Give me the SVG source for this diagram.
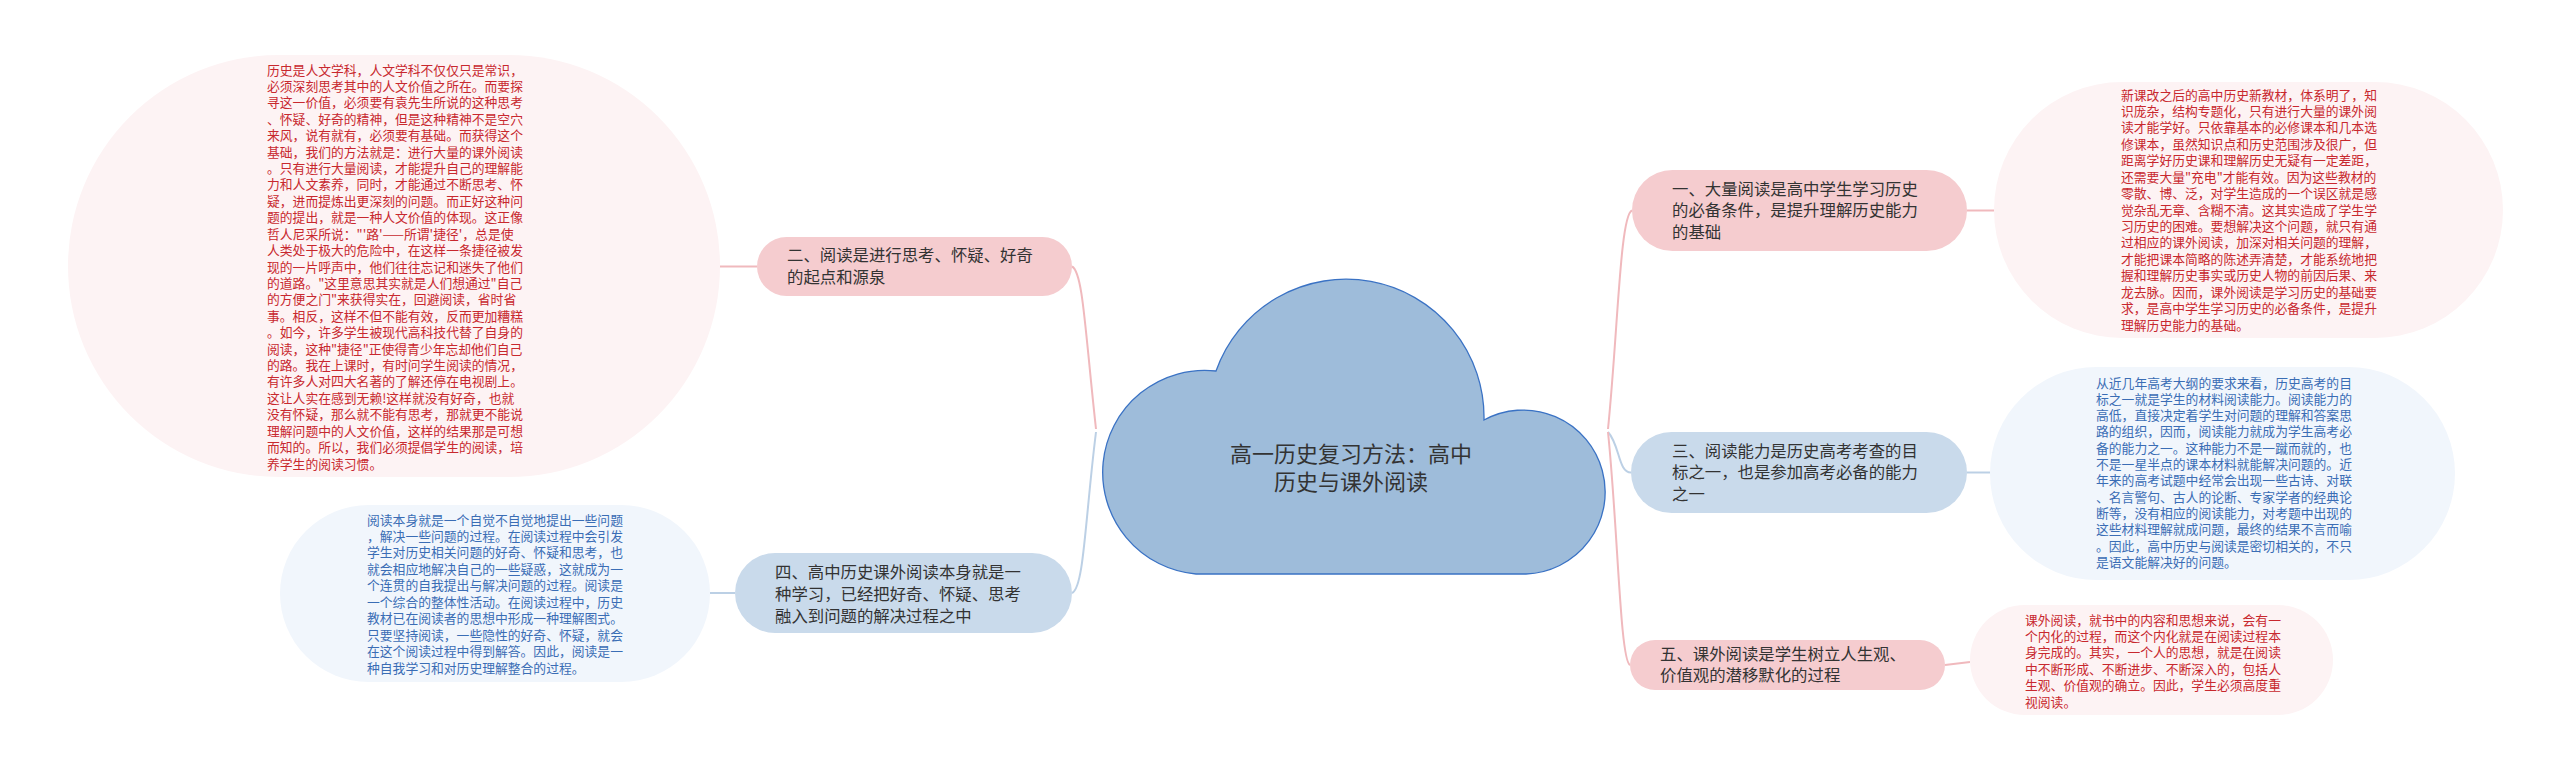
<svg xmlns="http://www.w3.org/2000/svg" width="2560" height="771" viewBox="0 0 2560 771">
<style>
.t{font-family:"Noto Sans CJK SC","Noto Sans",sans-serif;}
.leafR{font-size:12.8px;fill:#c8282e;}
.leafB{font-size:12.8px;fill:#3a6db5;}
.br{font-size:16.4px;fill:#333333;}
.pk{fill:#f5cccf;}
.bl{fill:#c9daeb;}
.lpk{fill:#fdf3f4;}
.lbl{fill:#f1f6fc;}
.cp{fill:none;stroke:#f0b9bd;stroke-width:2;}
.cb{fill:none;stroke:#bcd0e5;stroke-width:2;}
</style>
<rect width="2560" height="771" fill="#ffffff"/>
<g id="connectors">
<path class="cp" d="M1096,429 C1085,330 1083,272 1072,266.5"/>
<path class="cb" d="M1096,432 C1085,520 1084,588 1072,593"/>
<path class="cp" d="M1608,429 C1618,330 1620,215 1632,210.5"/>
<path class="cb" d="M1608,432 C1620,445 1618,472.5 1631,472.5"/>
<path class="cp" d="M1608,432 C1618,530 1620,660 1630,665"/>
<path class="cp" d="M757,266.5 L720,266.5"/>
<path class="cb" d="M735,593 L710,593"/>
<path class="cp" d="M1967,210.5 L1994,210.5"/>
<path class="cb" d="M1967,472.5 L1990,472.5"/>
<path class="cp" d="M1945,665 L1970,662"/>
</g>
<g id="center">
<path d="M1216,371 A138,138 0 0 1 1484,420 A82,82 0 1 1 1526,574 L1196,574 A102,102 0 1 1 1216,371 Z" fill="#9ebcda" stroke="#3a72c4" stroke-width="1.3"/>
<text class="t" font-size="22" fill="#333333" text-anchor="middle"><tspan x="1351" y="461.7">高一历史复习方法：高中</tspan><tspan x="1351" y="489.7">历史与课外阅读</tspan></text>
</g>
<g id="node1">
<rect class="pk" x="1632" y="170" width="335" height="81" rx="40.5"/>
<text class="t br"><tspan x="1672" y="194.7">一、大量阅读是高中学生学习历史</tspan><tspan x="1672" y="216.2">的必备条件，是提升理解历史能力</tspan><tspan x="1672" y="237.7">的基础</tspan></text>
</g>
<g id="node2">
<rect class="pk" x="757" y="237" width="315" height="59" rx="29.5"/>
<text class="t br"><tspan x="787" y="261.2">二、阅读是进行思考、怀疑、好奇</tspan><tspan x="787" y="283.2">的起点和源泉</tspan></text>
</g>
<g id="node3">
<rect class="bl" x="1631" y="432" width="336" height="81" rx="40.5"/>
<text class="t br"><tspan x="1672" y="456.7">三、阅读能力是历史高考考查的目</tspan><tspan x="1672" y="478.2">标之一，也是参加高考必备的能力</tspan><tspan x="1672" y="499.7">之一</tspan></text>
</g>
<g id="node4">
<rect class="bl" x="735" y="553" width="337" height="80" rx="40"/>
<text class="t br"><tspan x="775" y="578.2">四、高中历史课外阅读本身就是一</tspan><tspan x="775" y="600.2">种学习，已经把好奇、怀疑、思考</tspan><tspan x="775" y="622.2">融入到问题的解决过程之中</tspan></text>
</g>
<g id="node5">
<rect class="pk" x="1630" y="640" width="315" height="50" rx="25"/>
<text class="t br"><tspan x="1660" y="659.7">五、课外阅读是学生树立人生观、</tspan><tspan x="1660" y="681.2">价值观的潜移默化的过程</tspan></text>
</g>
<g id="leaf2">
<rect class="lpk" x="68" y="55" width="652" height="422" rx="211"/>
<text class="t leafR">
<tspan x="267" y="74.5">历史是人文学科，人文学科不仅仅只是常识，</tspan>
<tspan x="267" dy="16.42">必须深刻思考其中的人文价值之所在。而要探</tspan>
<tspan x="267" dy="16.42">寻这一价值，必须要有袁先生所说的这种思考</tspan>
<tspan x="267" dy="16.42">、怀疑、好奇的精神，但是这种精神不是空穴</tspan>
<tspan x="267" dy="16.42">来风，说有就有，必须要有基础。而获得这个</tspan>
<tspan x="267" dy="16.42">基础，我们的方法就是：进行大量的课外阅读</tspan>
<tspan x="267" dy="16.42">。只有进行大量阅读，才能提升自己的理解能</tspan>
<tspan x="267" dy="16.42">力和人文素养，同时，才能通过不断思考、怀</tspan>
<tspan x="267" dy="16.42">疑，进而提炼出更深刻的问题。而正好这种问</tspan>
<tspan x="267" dy="16.42">题的提出，就是一种人文价值的体现。这正像</tspan>
<tspan x="267" dy="16.42">哲人尼采所说："'路'——所谓'捷径'，总是使</tspan>
<tspan x="267" dy="16.42">人类处于极大的危险中，在这样一条捷径被发</tspan>
<tspan x="267" dy="16.42">现的一片呼声中，他们往往忘记和迷失了他们</tspan>
<tspan x="267" dy="16.42">的道路。"这里意思其实就是人们想通过"自己</tspan>
<tspan x="267" dy="16.42">的方便之门"来获得实在，回避阅读，省时省</tspan>
<tspan x="267" dy="16.42">事。相反，这样不但不能有效，反而更加糟糕</tspan>
<tspan x="267" dy="16.42">。如今，许多学生被现代高科技代替了自身的</tspan>
<tspan x="267" dy="16.42">阅读，这种"捷径"正使得青少年忘却他们自己</tspan>
<tspan x="267" dy="16.42">的路。我在上课时，有时问学生阅读的情况，</tspan>
<tspan x="267" dy="16.42">有许多人对四大名著的了解还停在电视剧上。</tspan>
<tspan x="267" dy="16.42">这让人实在感到无赖!这样就没有好奇，也就</tspan>
<tspan x="267" dy="16.42">没有怀疑，那么就不能有思考，那就更不能说</tspan>
<tspan x="267" dy="16.42">理解问题中的人文价值，这样的结果那是可想</tspan>
<tspan x="267" dy="16.42">而知的。所以，我们必须提倡学生的阅读，培</tspan>
<tspan x="267" dy="16.42">养学生的阅读习惯。</tspan>
</text>
</g>
<g id="leaf4">
<rect class="lbl" x="280" y="505" width="430" height="177" rx="88.5"/>
<text class="t leafB">
<tspan x="367" y="524.5">阅读本身就是一个自觉不自觉地提出一些问题</tspan>
<tspan x="367" dy="16.45">，解决一些问题的过程。在阅读过程中会引发</tspan>
<tspan x="367" dy="16.45">学生对历史相关问题的好奇、怀疑和思考，也</tspan>
<tspan x="367" dy="16.45">就会相应地解决自己的一些疑惑，这就成为一</tspan>
<tspan x="367" dy="16.45">个连贯的自我提出与解决问题的过程。阅读是</tspan>
<tspan x="367" dy="16.45">一个综合的整体性活动。在阅读过程中，历史</tspan>
<tspan x="367" dy="16.45">教材已在阅读者的思想中形成一种理解图式。</tspan>
<tspan x="367" dy="16.45">只要坚持阅读，一些隐性的好奇、怀疑，就会</tspan>
<tspan x="367" dy="16.45">在这个阅读过程中得到解答。因此，阅读是一</tspan>
<tspan x="367" dy="16.45">种自我学习和对历史理解整合的过程。</tspan>
</text>
</g>
<g id="leaf1">
<rect class="lpk" x="1994" y="82" width="509" height="256" rx="128"/>
<text class="t leafR">
<tspan x="2121" y="99.5">新课改之后的高中历史新教材，体系明了，知</tspan>
<tspan x="2121" dy="16.43">识庞杂，结构专题化，只有进行大量的课外阅</tspan>
<tspan x="2121" dy="16.43">读才能学好。只依靠基本的必修课本和几本选</tspan>
<tspan x="2121" dy="16.43">修课本，虽然知识点和历史范围涉及很广，但</tspan>
<tspan x="2121" dy="16.43">距离学好历史课和理解历史无疑有一定差距，</tspan>
<tspan x="2121" dy="16.43">还需要大量"充电"才能有效。因为这些教材的</tspan>
<tspan x="2121" dy="16.43">零散、博、泛，对学生造成的一个误区就是感</tspan>
<tspan x="2121" dy="16.43">觉杂乱无章、含糊不清。这其实造成了学生学</tspan>
<tspan x="2121" dy="16.43">习历史的困难。要想解决这个问题，就只有通</tspan>
<tspan x="2121" dy="16.43">过相应的课外阅读，加深对相关问题的理解，</tspan>
<tspan x="2121" dy="16.43">才能把课本简略的陈述弄清楚，才能系统地把</tspan>
<tspan x="2121" dy="16.43">握和理解历史事实或历史人物的前因后果、来</tspan>
<tspan x="2121" dy="16.43">龙去脉。因而，课外阅读是学习历史的基础要</tspan>
<tspan x="2121" dy="16.43">求，是高中学生学习历史的必备条件，是提升</tspan>
<tspan x="2121" dy="16.43">理解历史能力的基础。</tspan>
</text>
</g>
<g id="leaf3">
<rect class="lbl" x="1990" y="367" width="465" height="213" rx="106.5"/>
<text class="t leafB">
<tspan x="2096" y="387.5">从近几年高考大纲的要求来看，历史高考的目</tspan>
<tspan x="2096" dy="16.3">标之一就是学生的材料阅读能力。阅读能力的</tspan>
<tspan x="2096" dy="16.3">高低，直接决定着学生对问题的理解和答案思</tspan>
<tspan x="2096" dy="16.3">路的组织，因而，阅读能力就成为学生高考必</tspan>
<tspan x="2096" dy="16.3">备的能力之一。这种能力不是一蹴而就的，也</tspan>
<tspan x="2096" dy="16.3">不是一星半点的课本材料就能解决问题的。近</tspan>
<tspan x="2096" dy="16.3">年来的高考试题中经常会出现一些古诗、对联</tspan>
<tspan x="2096" dy="16.3">、名言警句、古人的论断、专家学者的经典论</tspan>
<tspan x="2096" dy="16.3">断等，没有相应的阅读能力，对考题中出现的</tspan>
<tspan x="2096" dy="16.3">这些材料理解就成问题，最终的结果不言而喻</tspan>
<tspan x="2096" dy="16.3">。因此，高中历史与阅读是密切相关的，不只</tspan>
<tspan x="2096" dy="16.3">是语文能解决好的问题。</tspan>
</text>
</g>
<g id="leaf5">
<rect class="lpk" x="1970" y="605" width="363" height="110" rx="55"/>
<text class="t leafR">
<tspan x="2025" y="624.5">课外阅读，就书中的内容和思想来说，会有一</tspan>
<tspan x="2025" dy="16.4">个内化的过程，而这个内化就是在阅读过程本</tspan>
<tspan x="2025" dy="16.4">身完成的。其实，一个人的思想，就是在阅读</tspan>
<tspan x="2025" dy="16.4">中不断形成、不断进步、不断深入的，包括人</tspan>
<tspan x="2025" dy="16.4">生观、价值观的确立。因此，学生必须高度重</tspan>
<tspan x="2025" dy="16.4">视阅读。</tspan>
</text>
</g>
</svg>
